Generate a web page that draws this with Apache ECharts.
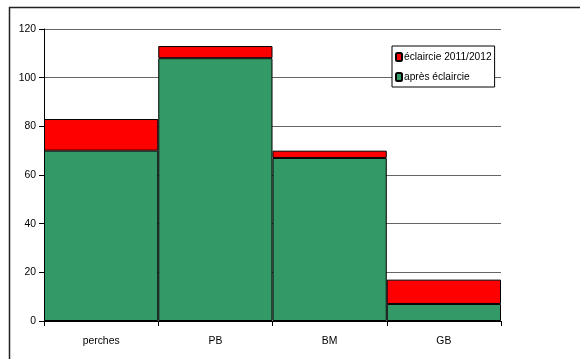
<!DOCTYPE html>
<html>
<head>
<meta charset="utf-8">
<script src="https://cdn.jsdelivr.net/npm/echarts@6/dist/echarts.min.js"></script>
<style>
  html, body { margin: 0; padding: 0; background: #fff; }
  #chart { width: 580px; height: 359px; }
</style>
</head>
<body>
<div id="chart"></div>
<script>
// Stem counts per diameter class
const categories = ['perches', 'PB', 'BM', 'GB'];
const apresEclaircie = [70, 108, 67, 7];
const eclaircie = [13, 5, 3, 10];
const yTicks = { min: 0, max: 120, interval: 20 };

const FONT = '"Liberation Sans", Arial, sans-serif';

const chart = echarts.init(document.getElementById('chart'), null, { renderer: 'canvas' });
chart.setOption({
  animation: false,
  backgroundColor: '#fff',
  textStyle: { fontFamily: FONT, color: '#000' },
  graphic: [{
    type: 'rect',
    shape: { x: 9.5, y: 7.5, width: 640, height: 420 },
    style: { fill: 'none', stroke: '#222', lineWidth: 1.5 },
    silent: true,
    z: -10
  }],
  grid: { left: 44, right: 79, top: 29, bottom: 38, containLabel: false },
  legend: {
    orient: 'vertical',
    left: 392,
    top: 46,
    padding: [6, 3, 5, 3],
    itemWidth: 6,
    itemHeight: 8,
    itemGap: 10,
    borderColor: '#000',
    borderWidth: 1,
    backgroundColor: '#fff',
    textStyle: { fontFamily: FONT, fontSize: 10.2, color: '#000', padding: [0, 0, 0, -3] },
    data: ['éclaircie 2011/2012', 'après éclaircie']
  },
  xAxis: {
    type: 'category',
    data: categories,
    boundaryGap: true,
    axisLine: { show: true, lineStyle: { color: '#000', width: 1 } },
    axisTick: { show: true, length: 5, lineStyle: { color: '#000' } },
    axisLabel: { fontFamily: FONT, fontSize: 10.4, color: '#000', margin: 15 },
    splitLine: { show: false }
  },
  yAxis: {
    type: 'value',
    min: yTicks.min,
    max: yTicks.max,
    interval: yTicks.interval,
    axisLine: { show: true, lineStyle: { color: '#000', width: 1 } },
    axisTick: { show: true, length: 5, lineStyle: { color: '#000' } },
    axisLabel: { fontFamily: FONT, fontSize: 10.4, color: '#000', margin: 8 },
    splitLine: { show: true, lineStyle: { color: '#666', width: 1 } }
  },
  series: [
    {
      name: 'après éclaircie',
      type: 'bar',
      stack: 'total',
      data: apresEclaircie,
      barWidth: '100%',
      barCategoryGap: '0%',
      itemStyle: { color: '#339966', borderColor: '#000', borderWidth: 1 }
    },
    {
      name: 'éclaircie 2011/2012',
      type: 'bar',
      stack: 'total',
      data: eclaircie,
      barWidth: '100%',
      barCategoryGap: '0%',
      itemStyle: { color: '#ff0000', borderColor: '#000', borderWidth: 1 }
    }
  ]
});
</script>
</body>
</html>
